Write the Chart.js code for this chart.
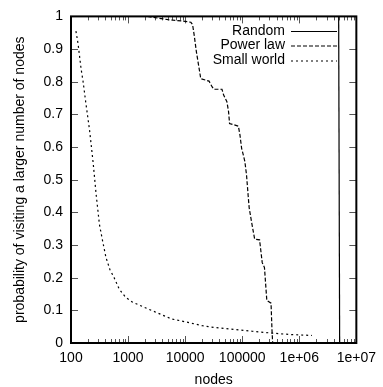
<!DOCTYPE html>
<html>
<head>
<meta charset="utf-8">
<script src="https://cdn.jsdelivr.net/npm/chart.js@4.4.1/dist/chart.umd.min.js"></script>
<style>
html,body{margin:0;padding:0;background:#fff;}
</style>
</head>
<body>
<canvas id="chart" width="383" height="387"></canvas>
<script>
// series names
const seriesNames = ["Random", "Power law", "Small world"];

// Random: near-vertical line around 5e6 nodes
const randomX = [4.9e6, 5.1e6];
const randomY = [1, 0];

// Power law: stepped decline between 1e4 and 3.4e5
const powerX = [2200, 5000, 10000, 12600, 13500, 14450, 15800, 17600, 18800, 26200, 29800, 31900,
  44200, 47300, 53900, 57700, 60000, 85700, 91300, 97700, 104500, 111200, 119000, 127300,
  132500, 145000, 165300, 201500, 224300, 245500, 270000, 320000, 332700, 342000];
const powerY = [1.0, 0.99, 0.985, 0.982, 0.975, 0.941, 0.89, 0.84, 0.809, 0.802, 0.784, 0.777,
  0.777, 0.759, 0.739, 0.708, 0.672, 0.664, 0.637, 0.596, 0.576, 0.556, 0.515, 0.45,
  0.414, 0.373, 0.318, 0.316, 0.246, 0.231, 0.13, 0.122, 0.039, 0];

// Small world: fast decay from ~120 nodes
const smallX = [122, 133, 150, 163, 181, 212, 245, 276, 315, 360, 410, 480, 570, 700, 905, 1200,
  2000, 3500, 5700, 10000, 20000, 28000, 70000, 150000, 342000, 700000, 1670000];
const smallY = [0.955, 0.916, 0.84, 0.80, 0.738, 0.65, 0.55, 0.454, 0.363, 0.31, 0.262, 0.225, 0.20,
  0.165, 0.14, 0.125, 0.108, 0.09, 0.074, 0.065, 0.053, 0.049, 0.042, 0.036, 0.030, 0.026, 0.023];

// tick labels
const xTickValues = [100, 1000, 10000, 100000, 1000000, 10000000];
const xTickLabels = ["100", "1000", "10000", "100000", "1e+06", "1e+07"];
const yTickValues = [0, 0.1, 0.2, 0.3, 0.4, 0.5, 0.6, 0.7, 0.8, 0.9, 1];
const yTickLabels = ["0", "0.1", "0.2", "0.3", "0.4", "0.5", "0.6", "0.7", "0.8", "0.9", "1"];

const FONT = "'Liberation Sans', Arial, sans-serif";

function pts(xs, ys){
  return xs.map((x, i) => ({x: x, y: ys[i]}));
}

// gnuplot style frame, inward ticks and key
const frame = {
  id: "frame",
  beforeDatasetsDraw(chart){
    const c = chart.ctx;
    const a = chart.chartArea;
    const xs = chart.scales.x;
    const ys = chart.scales.y;
    c.save();
    c.strokeStyle = "#555";
    c.lineWidth = 1;
    c.beginPath();
    xTickValues.forEach((v, i) => {
      const px = Math.round(xs.getPixelForValue(v)) + 0.5;
      c.moveTo(px, a.bottom); c.lineTo(px, a.bottom - 7);
      c.moveTo(px, a.top); c.lineTo(px, a.top + 7);
      if(i < xTickValues.length - 1){
        for(let k = 2; k < 10; k++){
          const mx = Math.round(xs.getPixelForValue(v * k)) + 0.5;
          c.moveTo(mx, a.bottom); c.lineTo(mx, a.bottom - 4);
          c.moveTo(mx, a.top); c.lineTo(mx, a.top + 4);
        }
      }
    });
    yTickValues.forEach(v => {
      const py = Math.round(ys.getPixelForValue(v)) + 0.5;
      c.moveTo(a.left, py); c.lineTo(a.left + 7, py);
      c.moveTo(a.right, py); c.lineTo(a.right - 7, py);
    });
    c.stroke();
    c.restore();
  },
  afterDraw(chart){
    const c = chart.ctx;
    const a = chart.chartArea;
    c.save();
    c.strokeStyle = "#000";
    c.lineWidth = 2;
    c.strokeRect(a.left, a.top, a.right - a.left, a.bottom - a.top);

    // key
    c.font = "14px " + FONT;
    c.fillStyle = "#000";
    c.textAlign = "right";
    c.textBaseline = "middle";
    const rows = [31, 45.5, 60.5];
    chart.data.datasets.forEach((ds, i) => {
      c.fillText(ds.label, 285, rows[i]);
      c.beginPath();
      c.setLineDash(ds.borderDash || []);
      c.lineWidth = ds.borderWidth;
      c.strokeStyle = ds.borderColor;
      c.moveTo(291, rows[i] + 0.5);
      c.lineTo(337, rows[i] + 0.5);
      c.stroke();
    });
    c.restore();
  }
};

new Chart(document.getElementById("chart"), {
  type: "line",
  data: {
    datasets: [
      {label: seriesNames[0], data: pts(randomX, randomY), borderColor: "#000", borderWidth: 1.2, pointRadius: 0, tension: 0},
      {label: seriesNames[1], data: pts(powerX, powerY), borderColor: "#000", borderWidth: 1.2, borderDash: [4, 2], pointRadius: 0, tension: 0},
      {label: seriesNames[2], data: pts(smallX, smallY), borderColor: "#000", borderWidth: 1.2, borderDash: [2, 3], pointRadius: 0, tension: 0}
    ]
  },
  options: {
    responsive: false,
    animation: false,
    layout: {padding: {top: 14, right: 21, left: 0, bottom: 0}},
    plugins: {legend: {display: false}, tooltip: {enabled: false}},
    scales: {
      x: {
        type: "logarithmic",
        min: 100,
        max: 10000000,
        afterBuildTicks(s){ s.ticks = xTickValues.map(v => ({value: v})); },
        afterFit(s){ s.height = 44; },
        grid: {display: false, drawTicks: false},
        border: {display: false},
        ticks: {
          autoSkip: false,
          maxRotation: 0,
          padding: 7,
          color: "#000",
          font: {family: FONT, size: 14},
          callback: (v, i) => xTickLabels[i]
        },
        title: {display: true, text: "nodes", color: "#000", font: {family: FONT, size: 14, lineHeight: 1}, padding: {top: 0, bottom: 0}}
      },
      y: {
        type: "linear",
        min: 0,
        max: 1,
        afterBuildTicks(s){ s.ticks = yTickValues.map(v => ({value: v})); },
        afterFit(s){ s.width = 71; },
        grid: {display: false, drawTicks: false},
        border: {display: false},
        ticks: {
          autoSkip: false,
          padding: 8,
          color: "#000",
          font: {family: FONT, size: 14},
          callback: (v, i) => yTickLabels[i]
        },
        title: {display: true, text: "probability of visiting a larger number of nodes", color: "#000", font: {family: FONT, size: 14, lineHeight: 1}, padding: {top: 13, bottom: 0}}
      }
    }
  },
  plugins: [frame]
});
</script>
</body>
</html>
